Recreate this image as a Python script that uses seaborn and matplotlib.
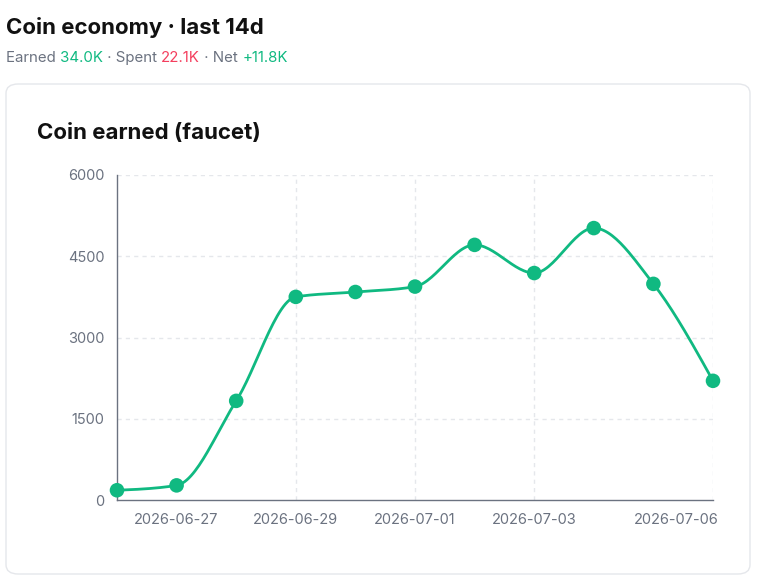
import numpy as np
import pandas as pd
import seaborn as sns
import matplotlib.pyplot as plt
import matplotlib.dates as mdates
import matplotlib.transforms as mtransforms
from matplotlib.patches import FancyBboxPatch

# data
dates = ['2026-06-26', '2026-06-27', '2026-06-28', '2026-06-29', '2026-06-30', '2026-07-01',
         '2026-07-02', '2026-07-03', '2026-07-04', '2026-07-05', '2026-07-06']
earned = [180, 270, 1830, 3750, 3840, 3940, 4710, 4190, 5020, 3990, 2200]
tick_dates = ['2026-06-27', '2026-06-29', '2026-07-01', '2026-07-03', '2026-07-06']
y_ticks = [0, 1500, 3000, 4500, 6000]
summary = [('Earned ', '#6b7280'), ('34.0K', '#10b981'), (' · Spent ', '#6b7280'),
           ('22.1K', '#f43f5e'), (' · Net ', '#6b7280'), ('+11.8K', '#10b981')]

GREEN = '#10b981'
GRAY = '#6b7280'
GRID = '#e5e7eb'

df = pd.DataFrame({'date': pd.to_datetime(dates), 'earned': earned})
df['x'] = mdates.date2num(df['date'])


def monotone_curve(x, y, n=30):
    # d3 curveMonotoneX style smoothing, for drawing only
    x = np.asarray(x, float)
    y = np.asarray(y, float)
    h = np.diff(x)
    s = np.diff(y) / h
    t = np.zeros_like(y)
    for i in range(1, len(y) - 1):
        p = (s[i - 1] * h[i] + s[i] * h[i - 1]) / (h[i - 1] + h[i])
        t[i] = (np.sign(s[i - 1]) + np.sign(s[i])) * min(abs(s[i - 1]), abs(s[i]), 0.5 * abs(p))
    t[0] = (3 * s[0] - t[1]) / 2
    t[-1] = (3 * s[-1] - t[-2]) / 2
    xs, ys = [], []
    for i in range(len(h)):
        u = np.linspace(0, 1, n)
        h00 = 2 * u**3 - 3 * u**2 + 1
        h10 = u**3 - 2 * u**2 + u
        h01 = -2 * u**3 + 3 * u**2
        h11 = u**3 - u**2
        xs.append(x[i] + u * h[i])
        ys.append(h00 * y[i] + h10 * h[i] * t[i] + h01 * y[i + 1] + h11 * h[i] * t[i + 1])
    return np.concatenate(xs), np.concatenate(ys)


sns.set_style('white')
plt.rcParams['font.family'] = ['Inter', 'DejaVu Sans']

fig = plt.figure(figsize=(7.65, 5.8), dpi=100)

# card behind the chart
card = FancyBboxPatch((6 / 765, 6 / 580), 744 / 765, 490 / 580,
                      boxstyle='round,pad=0,rounding_size=0.016', transform=fig.transFigure,
                      facecolor='white', edgecolor=GRID, linewidth=1.0, zorder=-1)
fig.patches.append(card)

fig.text(6 / 765, 1 - 27 / 580, 'Coin economy · last 14d', fontsize=16, fontweight='bold',
         color='#111111', va='center', ha='left')

# coloured summary line
x_px = 6
renderer = fig.canvas.get_renderer()
for txt, col in summary:
    t = fig.text(x_px / 765, 1 - 58 / 580, txt, fontsize=10.8, color=col, va='center', ha='left')
    x_px += t.get_window_extent(renderer).width

fig.text(37 / 765, 1 - 133 / 580, 'Coin earned (faucet)', fontsize=16, fontweight='bold',
         color='#111111', va='center', ha='left')

ax = fig.add_axes([117 / 765, 1 - 500 / 580, 596 / 765, 325 / 580])

cx, cy = monotone_curve(df['x'], df['earned'])
ax.plot(cx, cy, color=GREEN, linewidth=2, zorder=3, solid_capstyle='round')
sns.scatterplot(data=df, x='x', y='earned', color=GREEN, s=110, edgecolor='none',
                zorder=4, ax=ax, clip_on=False)

ax.set_xlim(df['x'].iloc[0], df['x'].iloc[-1])
ax.set_ylim(0, 6000)
ax.set_yticks(y_ticks)
tick_x = mdates.date2num(pd.to_datetime(tick_dates))
ax.set_xticks(tick_x)
ax.set_xticklabels(tick_dates)

for v in y_ticks[1:]:
    ax.axhline(v, color=GRID, linewidth=1, linestyle=(0, (3, 3)), zorder=1)
for v in tick_x[1:]:
    ax.axvline(v, color=GRID, linewidth=1, linestyle=(0, (3, 3)), zorder=1)

for side in ['top', 'right']:
    ax.spines[side].set_visible(False)
for side in ['left', 'bottom']:
    ax.spines[side].set_color(GRAY)
    ax.spines[side].set_linewidth(1)
ax.tick_params(axis='both', colors=GRAY, labelcolor=GRAY, labelsize=10.5, length=6, width=1,
               direction='out', pad=3)

# last date label is pulled inside, as in the reference
last = ax.get_xticklabels()[-1]
last.set_ha('right')
last.set_transform(last.get_transform() + mtransforms.ScaledTranslation(6 / 100, 0, fig.dpi_scale_trans))

ax.set_xlabel('')
ax.set_ylabel('')

fig.savefig('out.png', dpi=100)
